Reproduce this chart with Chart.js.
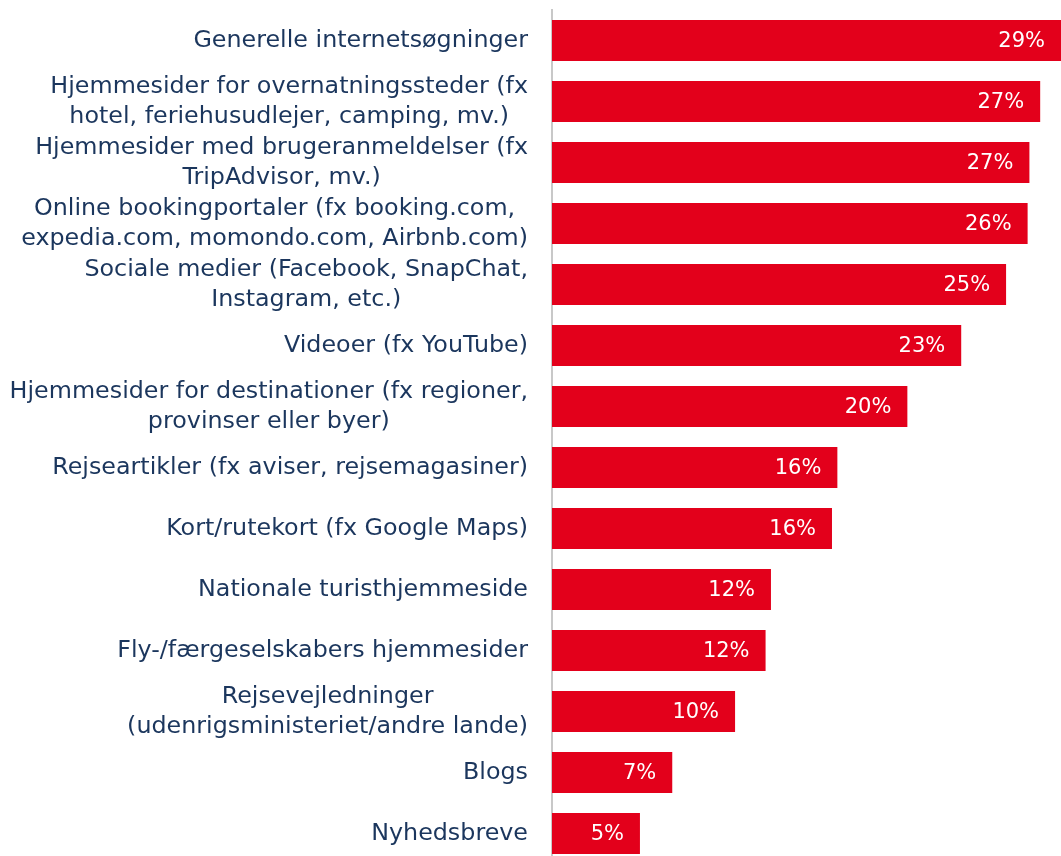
<!DOCTYPE html>
<html>
<head>
<meta charset="utf-8">
<script src="https://cdn.jsdelivr.net/npm/chart.js@4"></script>
<style>
html,body{margin:0;padding:0;background:#fff;overflow:hidden;}
#wrap{position:absolute;left:0;top:0;width:1061px;height:864px;}
</style>
</head>
<body>
<div id="wrap"><canvas id="c" width="1061" height="864"></canvas></div>
<script>
const categories = [
  ["Generelle internetsøgninger"],
  ["Hjemmesider for overnatningssteder (fx", "hotel, feriehusudlejer, camping, mv.)"],
  ["Hjemmesider med brugeranmeldelser (fx", "TripAdvisor, mv.)"],
  ["Online bookingportaler (fx booking.com,", "expedia.com, momondo.com, Airbnb.com)"],
  ["Sociale medier (Facebook, SnapChat,", "Instagram, etc.)"],
  ["Videoer (fx YouTube)"],
  ["Hjemmesider for destinationer (fx regioner,", "provinser eller byer)"],
  ["Rejseartikler (fx aviser, rejsemagasiner)"],
  ["Kort/rutekort (fx Google Maps)"],
  ["Nationale turisthjemmeside"],
  ["Fly-/færgeselskabers hjemmesider"],
  ["Rejsevejledninger", "(udenrigsministeriet/andre lande)"],
  ["Blogs"],
  ["Nyhedsbreve"]
];
const values = [29.0, 27.2, 26.6, 26.5, 25.3, 22.8, 19.8, 15.9, 15.6, 12.2, 11.9, 10.2, 6.7, 4.9];
const valueLabels = ["29%","27%","27%","26%","25%","23%","20%","16%","16%","12%","12%","10%","7%","5%"];

const LABEL_FONT = '23.8px "DejaVu Sans", sans-serif';
const VALUE_FONT = '21px "DejaVu Sans", sans-serif';
const NAVY = '#1B365D';
const RED = '#E3001B';

const labelsPlugin = {
  id: 'customLabels',
  afterDatasetsDraw(chart) {
    const ctx = chart.ctx;
    const yScale = chart.scales.y;
    const area = chart.chartArea;
    ctx.save();
    ctx.font = LABEL_FONT;
    ctx.fillStyle = NAVY;
    ctx.textBaseline = 'middle';
    ctx.textAlign = 'center';
    const rightEdge = area.left - 24;
    const lineH = 30;
    categories.forEach((lines, i) => {
      const yc = yScale.getPixelForValue(i);
      const w = Math.max(...lines.map(l => ctx.measureText(l).width));
      const cx = rightEdge - w / 2;
      const y0 = yc - (lines.length - 1) * lineH / 2;
      lines.forEach((l, j) => ctx.fillText(l, cx, y0 + j * lineH));
    });
    ctx.font = VALUE_FONT;
    ctx.fillStyle = '#FFFFFF';
    ctx.textAlign = 'right';
    const meta = chart.getDatasetMeta(0);
    meta.data.forEach((bar, i) => {
      const xEnd = Math.min(bar.x, area.right);
      ctx.fillText(valueLabels[i], xEnd - 16, bar.y + 1);
    });
    ctx.restore();
  }
};

new Chart(document.getElementById('c'), {
  type: 'bar',
  data: {
    labels: categories,
    datasets: [{
      data: values,
      backgroundColor: RED,
      borderWidth: 0,
      categoryPercentage: 1,
      barPercentage: 0.672
    }]
  },
  options: {
    indexAxis: 'y',
    responsive: false,
    animation: false,
    devicePixelRatio: 1,
    layout: { padding: { top: 10, bottom: 0, left: 0, right: 0 } },
    plugins: { legend: { display: false }, tooltip: { enabled: false } },
    scales: {
      x: { display: false, min: 0, max: 28.36 },
      y: {
        display: true,
        ticks: { display: false },
        grid: { display: false },
        border: { display: true, color: '#C8C8C8', width: 2 },
        afterFit(scale) { scale.width = 552; }
      }
    }
  },
  plugins: [labelsPlugin]
});
</script>
</body>
</html>
